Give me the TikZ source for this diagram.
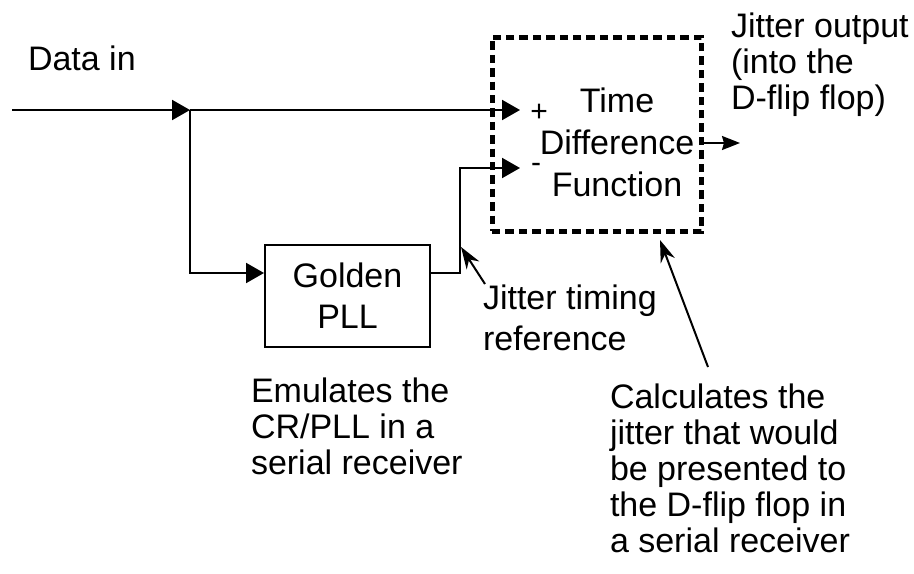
\documentclass[tikz,border=0pt]{standalone}
\usepackage{fontspec}
\setmainfont{Liberation Sans}
\usetikzlibrary{arrows.meta,positioning}

\begin{document}
\begin{tikzpicture}[
    x=0.5pt, y=-0.5pt, % one unit per pixel, y runs down
    line width=1pt, % line style
    > = {Triangle[length=9pt,width=10pt]}, % arrow head style
    font=\fontsize{17}{18}\selectfont
  ]

  \tikzstyle{block}=[rectangle,draw=black,minimum width=82.5pt,minimum height=51pt,
    align=center,inner sep=0pt,font=\fontsize{17}{20.5}\selectfont]
  \tikzstyle{tdfbox}=[rectangle,draw=black,line width=2.5pt,
    dash pattern=on 4.2pt off 2.5pt,minimum width=104.5pt,minimum height=97pt]
  \tikzstyle{label}=[anchor=north west,inner sep=0pt,align=left]
  \tikzstyle{sign}=[inner sep=0pt,font=\fontsize{15}{15}\selectfont]
  \tikzstyle{callout}=[-{Stealth[length=11pt,width=7.5pt]}]

  \useasboundingbox (0,0) rectangle (914,573);

  % blocks
  \node[block] (pll) at (347.5,296) {Golden\\PLL};
  \node[tdfbox] (tdf) at (596.5,134) {};
  \node[align=center,inner sep=0pt,font=\fontsize{17}{21}\selectfont] (tdftext) at (617,142)
    {Time\\Difference\\Function};
  \node[sign] (plus) at (539,113) {+};
  \node[sign] (minus) at (536,168) {-};

  % texts
  \node[label] (datain) at (27,45) {Data in};
  \node[label] (jout) at (730,12) {Jitter output\\(into the\\D-flip flop)};
  \node[label,font=\fontsize{17}{20.5}\selectfont] (jtr) at (482,284) {Jitter timing\\reference};
  \node[label] (emu) at (250,377) {Emulates the\\CR/PLL in a\\serial receiver};
  \node[label] (calc) at (609,383) {Calculates the\\jitter that would\\be presented to\\the D-flip flop in\\a serial receiver};

  % signal points
  \coordinate (din) at (12,110);
  \coordinate (split) at (190,110);
  \coordinate (inplus) at (520,110);
  \coordinate (inminus) at (520,168);
  \coordinate (outend) at (740,143);
  \coordinate (jtrtip) at (461,247);
  \coordinate (calctail) at (708,367);
  \coordinate (calctip) at (660,240);

  \draw[->] (din) -- (split);
  \draw[->] (split) -- (inplus);
  \draw[->] (split) |- ([yshift=11.5pt]pll.west);
  \draw[->] ([yshift=11.5pt]pll.east) -- ++(14.5pt,0) |- (inminus);
  \draw[-{Stealth[length=9pt,width=7pt,inset=1pt]}] (tdf.east |- outend) -- (outend);

  \draw[callout] ([xshift=1.5pt]jtr.north west) -- (jtrtip);
  \draw[callout] (calctail) -- (calctip);

\end{tikzpicture}
\end{document}
